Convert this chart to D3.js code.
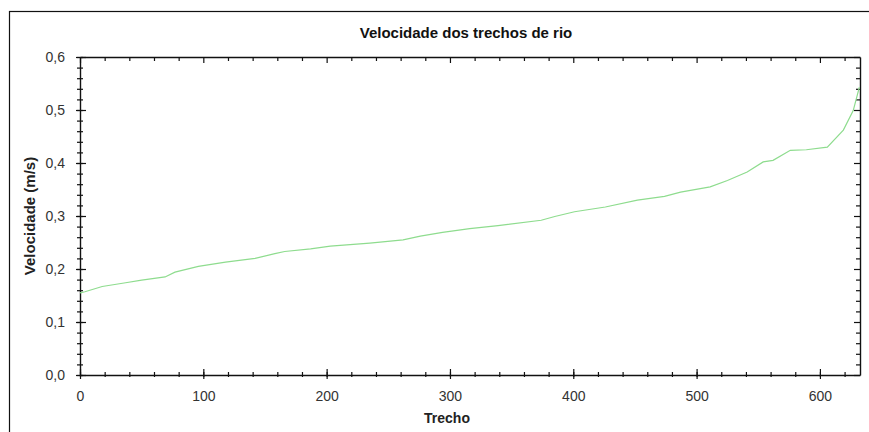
<!DOCTYPE html>
<html>
<head>
<meta charset="utf-8">
<script src="https://cdn.jsdelivr.net/npm/d3@7"></script>
<style>
  html, body { margin: 0; padding: 0; background: #fff; }
  svg { display: block; font-family: "Liberation Sans", Arial, sans-serif; }
</style>
</head>
<body>
<svg id="chart" width="869" height="432"></svg>
<script>
// Velocidade média por trecho de rio (trechos ordenados por velocidade)
const trecho = [0, 4, 18, 37, 50, 69, 77, 96, 118, 142, 158, 166, 187, 203, 235, 262, 276, 294, 316,
  339, 374, 385, 401, 426, 452, 474, 487, 511, 525, 541, 554, 562, 576, 589, 606, 619, 627, 632];
const velocidade = [0.155, 0.157, 0.167, 0.174, 0.179, 0.185, 0.194, 0.205, 0.213, 0.220, 0.229, 0.233,
  0.238, 0.243, 0.249, 0.255, 0.262, 0.269, 0.276, 0.282, 0.292, 0.299, 0.308, 0.317, 0.330, 0.337,
  0.345, 0.355, 0.367, 0.383, 0.402, 0.405, 0.424, 0.425, 0.430, 0.462, 0.499, 0.543];

const xTicks = [0, 100, 200, 300, 400, 500, 600];
const yTicks = [0, 0.1, 0.2, 0.3, 0.4, 0.5, 0.6];
const xMinor = d3.range(0, 633, 20);
const yMinor = d3.range(0, 0.6001, 0.02);

const titulo = "Velocidade dos trechos de rio";
const tituloX = "Trecho";
const tituloY = "Velocidade (m/s)";

const svg = d3.select("#chart");
const m = { left: 80, right: 860, top: 57, bottom: 375 };

const x = d3.scaleLinear().domain([0, 632.5]).range([m.left, m.right]);
const y = d3.scaleLinear().domain([0, 0.6]).range([m.bottom, m.top]);
const fmt = v => d3.format(".1f")(v).replace(".", ",");

// moldura externa
svg.append("rect")
  .attr("x", 9.5).attr("y", 11.5).attr("width", 880).attr("height", 440)
  .attr("fill", "none").attr("stroke", "#111").attr("stroke-width", 1.2);

// título
svg.append("text")
  .attr("x", 466).attr("y", 38)
  .attr("text-anchor", "middle")
  .attr("font-size", 15).attr("font-weight", "bold").attr("fill", "#111")
  .text(titulo);

const axisStyle = g => {
  g.select(".domain").attr("stroke", "#111").attr("stroke-width", 1.4);
  g.selectAll(".tick line").attr("stroke", "#111").attr("stroke-width", 1.2);
  g.selectAll(".tick text").attr("fill", "#333").attr("font-size", 14)
    .attr("font-family", "\"Liberation Sans\", Arial, sans-serif");
};

// eixo inferior: marcas cruzando a linha
const gxMinor = svg.append("g").attr("transform", `translate(0,${m.bottom})`)
  .call(d3.axisBottom(x).tickValues(xMinor).tickSize(2).tickFormat("").tickSizeOuter(0));
gxMinor.select(".domain").remove();
gxMinor.selectAll(".tick line").attr("y1", -3).attr("y2", 2).attr("stroke", "#111").attr("stroke-width", 1.2);

const gx = svg.append("g").attr("transform", `translate(0,${m.bottom})`)
  .call(d3.axisBottom(x).tickValues(xTicks).tickFormat(d3.format("d")).tickSizeOuter(0).tickPadding(10));
gx.selectAll(".tick line").attr("y1", -6).attr("y2", 4);
axisStyle(gx);

// eixo superior (espelho)
const gxTop = svg.append("g").attr("transform", `translate(0,${m.top})`)
  .call(d3.axisTop(x).tickValues(xMinor).tickFormat("").tickSizeOuter(0));
gxTop.selectAll(".tick line").attr("y1", 0).attr("y2", d => (d % 100 === 0 ? 6 : 4));
axisStyle(gxTop);

// eixo esquerdo
const gyMinor = svg.append("g").attr("transform", `translate(${m.left},0)`)
  .call(d3.axisLeft(y).tickValues(yMinor).tickFormat("").tickSizeOuter(0));
gyMinor.select(".domain").remove();
gyMinor.selectAll(".tick line").attr("x1", -3).attr("x2", 3).attr("stroke", "#111").attr("stroke-width", 1.2);

const gy = svg.append("g").attr("transform", `translate(${m.left},0)`)
  .call(d3.axisLeft(y).tickValues(yTicks).tickFormat(fmt).tickSizeOuter(0).tickPadding(6));
gy.selectAll(".tick line").attr("x1", -4).attr("x2", 6);
gy.selectAll(".tick text").attr("x", -15);
axisStyle(gy);

// eixo direito (espelho)
const gyRight = svg.append("g").attr("transform", `translate(${m.right},0)`)
  .call(d3.axisRight(y).tickValues(yMinor).tickFormat("").tickSizeOuter(0));
gyRight.selectAll(".tick line").attr("x1", 0)
  .attr("x2", (d, i) => (i % 5 === 0 ? -6 : -4));
axisStyle(gyRight);

// títulos dos eixos
svg.append("text")
  .attr("x", 447).attr("y", 423)
  .attr("text-anchor", "middle")
  .attr("font-size", 14).attr("font-weight", "bold").attr("fill", "#222")
  .text(tituloX);

svg.append("text")
  .attr("transform", `translate(35,${(m.top + m.bottom) / 2}) rotate(-90)`)
  .attr("text-anchor", "middle")
  .attr("font-size", 15).attr("font-weight", "bold").attr("fill", "#222")
  .text(tituloY);

// série
const dados = trecho.map((t, i) => [t, velocidade[i]]);
svg.append("path")
  .datum(dados)
  .attr("fill", "none")
  .attr("stroke", "#8edc8e")
  .attr("stroke-width", 1.2)
  .attr("d", d3.line().x(d => x(d[0])).y(d => y(d[1])));
</script>
</body>
</html>
